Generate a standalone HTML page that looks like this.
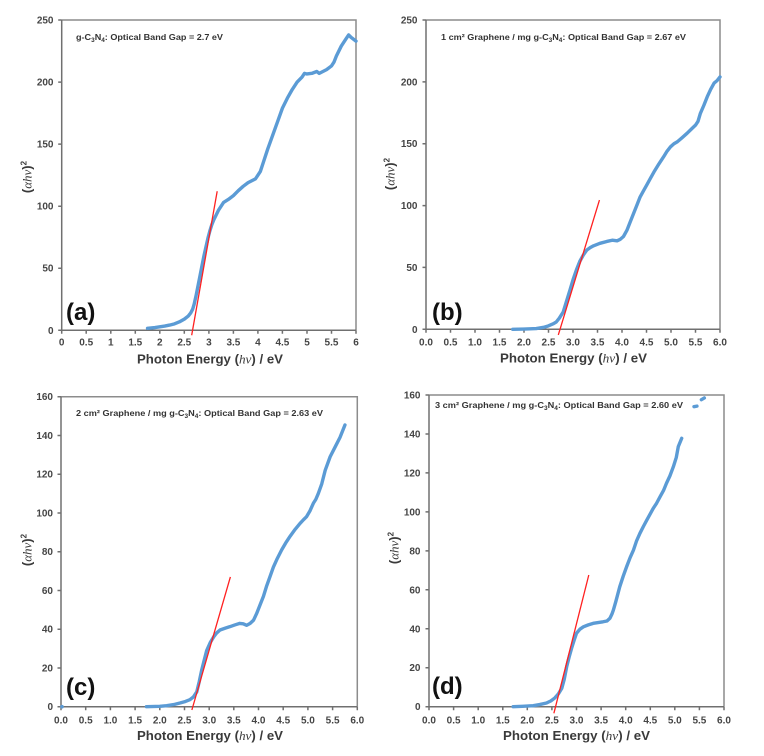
<!DOCTYPE html>
<html><head><meta charset="utf-8"><style>
html,body{margin:0;padding:0;background:#fff;}
svg{display:block;}
.tk{font-family:"Liberation Sans",sans-serif;font-size:10px;font-weight:bold;fill:#454545;}
.tt{font-family:"Liberation Sans",sans-serif;font-size:8.5px;font-weight:bold;fill:#333;}
.xl{font-family:"Liberation Sans",sans-serif;font-size:13px;font-weight:bold;fill:#3a3a3a;}
.pl{font-family:"Liberation Sans",sans-serif;font-size:24px;font-weight:bold;fill:#111;}
.mi{font-family:"Liberation Serif",serif;font-style:italic;font-weight:normal;}
.cv{fill:none;stroke:#5b9bd5;stroke-width:3.4;stroke-linejoin:round;stroke-linecap:round;vector-effect:non-scaling-stroke;}
.rl{stroke:#ff2020;stroke-width:1.3;vector-effect:non-scaling-stroke;}
.ax{fill:none;stroke:#707070;stroke-width:1.5;}
.fr{fill:none;stroke:#8c8c8c;stroke-width:1.5;}
</style></head><body>
<svg width="764" height="756" viewBox="0 0 764 756" xmlns="http://www.w3.org/2000/svg">
<rect width="764" height="756" fill="#fff"/>

<!-- ===== Panel A ===== -->
<g>
<path class="fr" d="M61.7,20 H356 V330.3"/>
<path class="ax" d="M61.7,20 V330.3 H356"/>
<path class="ax" stroke-width="1" d="M61.7,330.3v3.5M86.2,330.3v3.5M110.8,330.3v3.5M135.3,330.3v3.5M159.8,330.3v3.5M184.3,330.3v3.5M208.9,330.3v3.5M233.4,330.3v3.5M257.9,330.3v3.5M282.4,330.3v3.5M307,330.3v3.5M331.5,330.3v3.5M356,330.3v3.5M61.7,330.3h-3.5M61.7,268.2h-3.5M61.7,206.2h-3.5M61.7,144.1h-3.5M61.7,82.1h-3.5M61.7,20h-3.5"/>
<g class="tk" text-anchor="middle">
<text x="61.7" y="345.5">0</text><text x="86.2" y="345.5">0.5</text><text x="110.8" y="345.5">1</text><text x="135.3" y="345.5">1.5</text><text x="159.8" y="345.5">2</text><text x="184.3" y="345.5">2.5</text><text x="208.9" y="345.5">3</text><text x="233.4" y="345.5">3.5</text><text x="257.9" y="345.5">4</text><text x="282.4" y="345.5">4.5</text><text x="307" y="345.5">5</text><text x="331.5" y="345.5">5.5</text><text x="356" y="345.5">6</text>
</g>
<g class="tk" text-anchor="end">
<text x="53.5" y="333.8">0</text><text x="53.5" y="271.7">50</text><text x="53.5" y="209.7">100</text><text x="53.5" y="147.6">150</text><text x="53.5" y="85.6">200</text><text x="53.5" y="23.5">250</text>
</g>
<g transform="translate(61.7,330.3) scale(49.05,-1.2412)">
<polyline class="cv" points="1.75,1.6 1.9,2.2 2.0,2.8 2.1,3.4 2.2,4.2 2.3,5.2 2.4,6.8 2.5,9 2.58,11.5 2.63,14 2.67,17 2.7,21 2.74,28 2.78,36 2.82,44 2.86,52 2.9,60 2.94,67 2.98,74 3.02,80 3.06,85 3.1,89 3.15,93 3.2,97 3.25,100 3.3,103 3.4,105.5 3.5,108.5 3.6,112.5 3.7,116 3.8,119 3.9,121 3.95,122 4.0,125 4.05,128 4.1,134 4.2,146 4.3,157 4.4,168 4.5,179 4.6,187 4.7,194 4.8,200 4.9,204 4.95,207 5.0,206.5 5.1,207 5.2,208.5 5.25,207 5.3,208 5.4,210 5.5,213 5.55,216 5.6,221 5.7,229 5.8,235 5.85,238 5.9,236 6.0,233"/>
<line class="rl" x1="2.65" y1="-4" x2="3.17" y2="112"/>
</g>
<text class="tt" x="76" y="40" textLength="147" lengthAdjust="spacingAndGlyphs">g-C<tspan font-size="6" dy="2">3</tspan><tspan dy="-2">N</tspan><tspan font-size="6" dy="2">4</tspan><tspan dy="-2">: Optical Band Gap = 2.7 eV</tspan></text>
<text class="pl" x="66" y="320">(a)</text>
<text class="xl" x="137" y="363.5" textLength="146" lengthAdjust="spacingAndGlyphs">Photon Energy (<tspan class="mi">hν</tspan>) / eV</text>
<text class="xl" transform="translate(31.5,177) rotate(-90)" text-anchor="middle">(<tspan class="mi">αhν</tspan>)<tspan font-size="8" dy="-5">2</tspan></text>
</g>

<!-- ===== Panel B ===== -->
<g>
<path class="fr" d="M426,20 H720 V329.3"/>
<path class="ax" d="M426,20 V329.3 H720"/>
<path class="ax" stroke-width="1" d="M426,329.3v3.5M450.5,329.3v3.5M475,329.3v3.5M499.5,329.3v3.5M524,329.3v3.5M548.5,329.3v3.5M573,329.3v3.5M597.5,329.3v3.5M622,329.3v3.5M646.5,329.3v3.5M671,329.3v3.5M695.5,329.3v3.5M720,329.3v3.5M426,329.3h-3.5M426,267.4h-3.5M426,205.6h-3.5M426,143.7h-3.5M426,81.9h-3.5M426,20h-3.5"/>
<g class="tk" text-anchor="middle">
<text x="426" y="345.3">0.0</text><text x="450.5" y="345.3">0.5</text><text x="475" y="345.3">1.0</text><text x="499.5" y="345.3">1.5</text><text x="524" y="345.3">2.0</text><text x="548.5" y="345.3">2.5</text><text x="573" y="345.3">3.0</text><text x="597.5" y="345.3">3.5</text><text x="622" y="345.3">4.0</text><text x="646.5" y="345.3">4.5</text><text x="671" y="345.3">5.0</text><text x="695.5" y="345.3">5.5</text><text x="720" y="345.3">6.0</text>
</g>
<g class="tk" text-anchor="end">
<text x="417.5" y="332.8">0</text><text x="417.5" y="270.9">50</text><text x="417.5" y="209.1">100</text><text x="417.5" y="147.2">150</text><text x="417.5" y="85.4">200</text><text x="417.5" y="23.5">250</text>
</g>
<g transform="translate(426,329.3) scale(49,-1.2372)">
<polyline class="cv" points="1.77,0 2.0,0.2 2.25,0.6 2.4,1.6 2.5,2.8 2.6,4.5 2.66,6 2.72,9 2.8,14 2.87,23 2.94,32 3.0,40 3.07,48 3.14,55 3.21,60 3.28,64 3.35,66 3.42,67.5 3.55,69.5 3.69,71 3.8,72 3.9,71.5 3.96,72.6 4.03,75 4.1,80 4.17,87 4.24,94 4.3,100 4.37,107 4.44,112 4.51,117 4.58,122 4.65,127 4.75,133.5 4.85,139.5 4.92,144 4.99,147.5 5.06,150 5.13,151.6 5.23,155 5.33,158.5 5.42,162 5.5,165 5.55,168 5.6,174.6 5.67,181 5.74,188 5.81,194 5.88,199 5.94,201 6.0,204"/>
<line class="rl" x1="2.7" y1="-4.6" x2="3.54" y2="104.5"/>
</g>
<text class="tt" x="441" y="40" textLength="245" lengthAdjust="spacingAndGlyphs">1 cm² Graphene / mg g-C<tspan font-size="6" dy="2">3</tspan><tspan dy="-2">N</tspan><tspan font-size="6" dy="2">4</tspan><tspan dy="-2">: Optical Band Gap = 2.67 eV</tspan></text>
<text class="pl" x="432" y="320">(b)</text>
<text class="xl" x="500" y="362.5" textLength="147" lengthAdjust="spacingAndGlyphs">Photon Energy (<tspan class="mi">hν</tspan>) / eV</text>
<text class="xl" transform="translate(394.5,174) rotate(-90)" text-anchor="middle">(<tspan class="mi">αhν</tspan>)<tspan font-size="8" dy="-5">2</tspan></text>
</g>

<!-- ===== Panel C ===== -->
<g>
<path class="fr" d="M61,396.7 H357.3 V706.7"/>
<path class="ax" d="M61,396.7 V706.7 H357.3"/>
<path class="ax" stroke-width="1" d="M61,706.7v3.5M85.7,706.7v3.5M110.4,706.7v3.5M135.1,706.7v3.5M159.8,706.7v3.5M184.5,706.7v3.5M209.2,706.7v3.5M233.8,706.7v3.5M258.5,706.7v3.5M283.2,706.7v3.5M307.9,706.7v3.5M332.6,706.7v3.5M357.3,706.7v3.5M61,706.7h-3.5M61,667.95h-3.5M61,629.2h-3.5M61,590.45h-3.5M61,551.7h-3.5M61,512.95h-3.5M61,474.2h-3.5M61,435.45h-3.5M61,396.7h-3.5"/>
<g class="tk" text-anchor="middle">
<text x="61" y="723.6">0.0</text><text x="85.7" y="723.6">0.5</text><text x="110.4" y="723.6">1.0</text><text x="135.1" y="723.6">1.5</text><text x="159.8" y="723.6">2.0</text><text x="184.5" y="723.6">2.5</text><text x="209.2" y="723.6">3.0</text><text x="233.8" y="723.6">3.5</text><text x="258.5" y="723.6">4.0</text><text x="283.2" y="723.6">4.5</text><text x="307.9" y="723.6">5.0</text><text x="332.6" y="723.6">5.5</text><text x="357.3" y="723.6">6.0</text>
</g>
<g class="tk" text-anchor="end">
<text x="53" y="710.2">0</text><text x="53" y="671.45">20</text><text x="53" y="632.7">40</text><text x="53" y="593.95">60</text><text x="53" y="555.2">80</text><text x="53" y="516.45">100</text><text x="53" y="477.7">120</text><text x="53" y="438.95">140</text><text x="53" y="400.2">160</text>
</g>
<circle cx="62" cy="706.7" r="1.8" fill="#5b9bd5"/>
<g transform="translate(61,706.7) scale(49.383,-1.9375)">
<polyline class="cv" points="1.73,0 2.0,0.2 2.14,0.5 2.3,1.2 2.41,1.9 2.52,2.7 2.61,3.6 2.68,5 2.75,7.7 2.8,13 2.85,19 2.9,24 2.95,29 3.02,33 3.09,36 3.15,38 3.22,39.6 3.32,40.5 3.42,41.3 3.52,42.2 3.62,43 3.69,42.8 3.76,42 3.83,43 3.9,44.7 3.96,48 4.03,52.5 4.1,57 4.16,62 4.23,67 4.3,72 4.38,76.5 4.47,81 4.55,84.5 4.64,88 4.74,91.5 4.84,94.6 4.91,96.5 4.97,98 5.04,101 5.11,105 5.16,107 5.21,110 5.28,115 5.35,122 5.45,129 5.55,134 5.65,139 5.75,145.4"/>
<line class="rl" x1="2.65" y1="-1.7" x2="3.43" y2="67"/>
</g>
<text class="tt" x="76" y="416" textLength="247" lengthAdjust="spacingAndGlyphs">2 cm² Graphene / mg g-C<tspan font-size="6" dy="2">3</tspan><tspan dy="-2">N</tspan><tspan font-size="6" dy="2">4</tspan><tspan dy="-2">: Optical Band Gap = 2.63 eV</tspan></text>
<text class="pl" x="66" y="695">(c)</text>
<text class="xl" x="137" y="740" textLength="146" lengthAdjust="spacingAndGlyphs">Photon Energy (<tspan class="mi">hν</tspan>) / eV</text>
<text class="xl" transform="translate(31.5,550) rotate(-90)" text-anchor="middle">(<tspan class="mi">αhν</tspan>)<tspan font-size="8" dy="-5">2</tspan></text>
</g>

<!-- ===== Panel D ===== -->
<g>
<path class="fr" d="M429,395 H724 V706.7"/>
<path class="ax" d="M429,395 V706.7 H724"/>
<path class="ax" stroke-width="1" d="M429,706.7v3.5M453.6,706.7v3.5M478.2,706.7v3.5M502.8,706.7v3.5M527.3,706.7v3.5M551.9,706.7v3.5M576.5,706.7v3.5M601.1,706.7v3.5M625.7,706.7v3.5M650.3,706.7v3.5M674.8,706.7v3.5M699.4,706.7v3.5M724,706.7v3.5M429,706.7h-3.5M429,667.7h-3.5M429,628.8h-3.5M429,589.8h-3.5M429,550.9h-3.5M429,511.9h-3.5M429,472.9h-3.5M429,434h-3.5M429,395h-3.5"/>
<g class="tk" text-anchor="middle">
<text x="429" y="723.6">0.0</text><text x="453.6" y="723.6">0.5</text><text x="478.2" y="723.6">1.0</text><text x="502.8" y="723.6">1.5</text><text x="527.3" y="723.6">2.0</text><text x="551.9" y="723.6">2.5</text><text x="576.5" y="723.6">3.0</text><text x="601.1" y="723.6">3.5</text><text x="625.7" y="723.6">4.0</text><text x="650.3" y="723.6">4.5</text><text x="674.8" y="723.6">5.0</text><text x="699.4" y="723.6">5.5</text><text x="724" y="723.6">6.0</text>
</g>
<g class="tk" text-anchor="end">
<text x="420.5" y="710.2">0</text><text x="420.5" y="671.2">20</text><text x="420.5" y="632.3">40</text><text x="420.5" y="593.3">60</text><text x="420.5" y="554.4">80</text><text x="420.5" y="515.4">100</text><text x="420.5" y="476.4">120</text><text x="420.5" y="437.5">140</text><text x="420.5" y="398.5">160</text>
</g>
<g transform="translate(429,706.7) scale(49.167,-1.948)">
<polyline class="cv" points="1.71,0 1.9,0.2 2.12,0.5 2.25,1.1 2.39,1.9 2.48,3 2.56,4.5 2.63,6.5 2.7,9.4 2.75,14 2.8,20.5 2.85,25.5 2.9,30 2.95,34 3.0,37.7 3.07,39.8 3.14,41 3.24,42 3.34,42.8 3.44,43.2 3.54,43.6 3.62,44 3.68,45.4 3.72,47.5 3.75,49.6 3.8,54 3.88,61.6 3.95,67 4.02,71.9 4.09,76.5 4.16,80.5 4.22,85 4.29,89 4.36,92.5 4.43,95.8 4.5,99 4.56,101.8 4.63,104.5 4.7,107.8 4.77,111 4.83,114.7 4.9,118.5 4.97,123.2 5.03,128 5.07,133.5 5.14,137.8"/>
<polyline class="cv" points="5.39,154 5.45,154.3"/>
<polyline class="cv" points="5.54,157.6 5.6,158.5"/>
<line class="rl" x1="2.54" y1="-3.4" x2="3.25" y2="67.6"/>
</g>
<text class="tt" x="435" y="408" textLength="248" lengthAdjust="spacingAndGlyphs">3 cm² Graphene / mg g-C<tspan font-size="6" dy="2">3</tspan><tspan dy="-2">N</tspan><tspan font-size="6" dy="2">4</tspan><tspan dy="-2">: Optical Band Gap = 2.60 eV</tspan></text>
<text class="pl" x="432" y="694">(d)</text>
<text class="xl" x="503" y="740" textLength="147" lengthAdjust="spacingAndGlyphs">Photon Energy (<tspan class="mi">hν</tspan>) / eV</text>
<text class="xl" transform="translate(398.5,548) rotate(-90)" text-anchor="middle">(<tspan class="mi">αhν</tspan>)<tspan font-size="8" dy="-5">2</tspan></text>
</g>
</svg>
</body></html>
